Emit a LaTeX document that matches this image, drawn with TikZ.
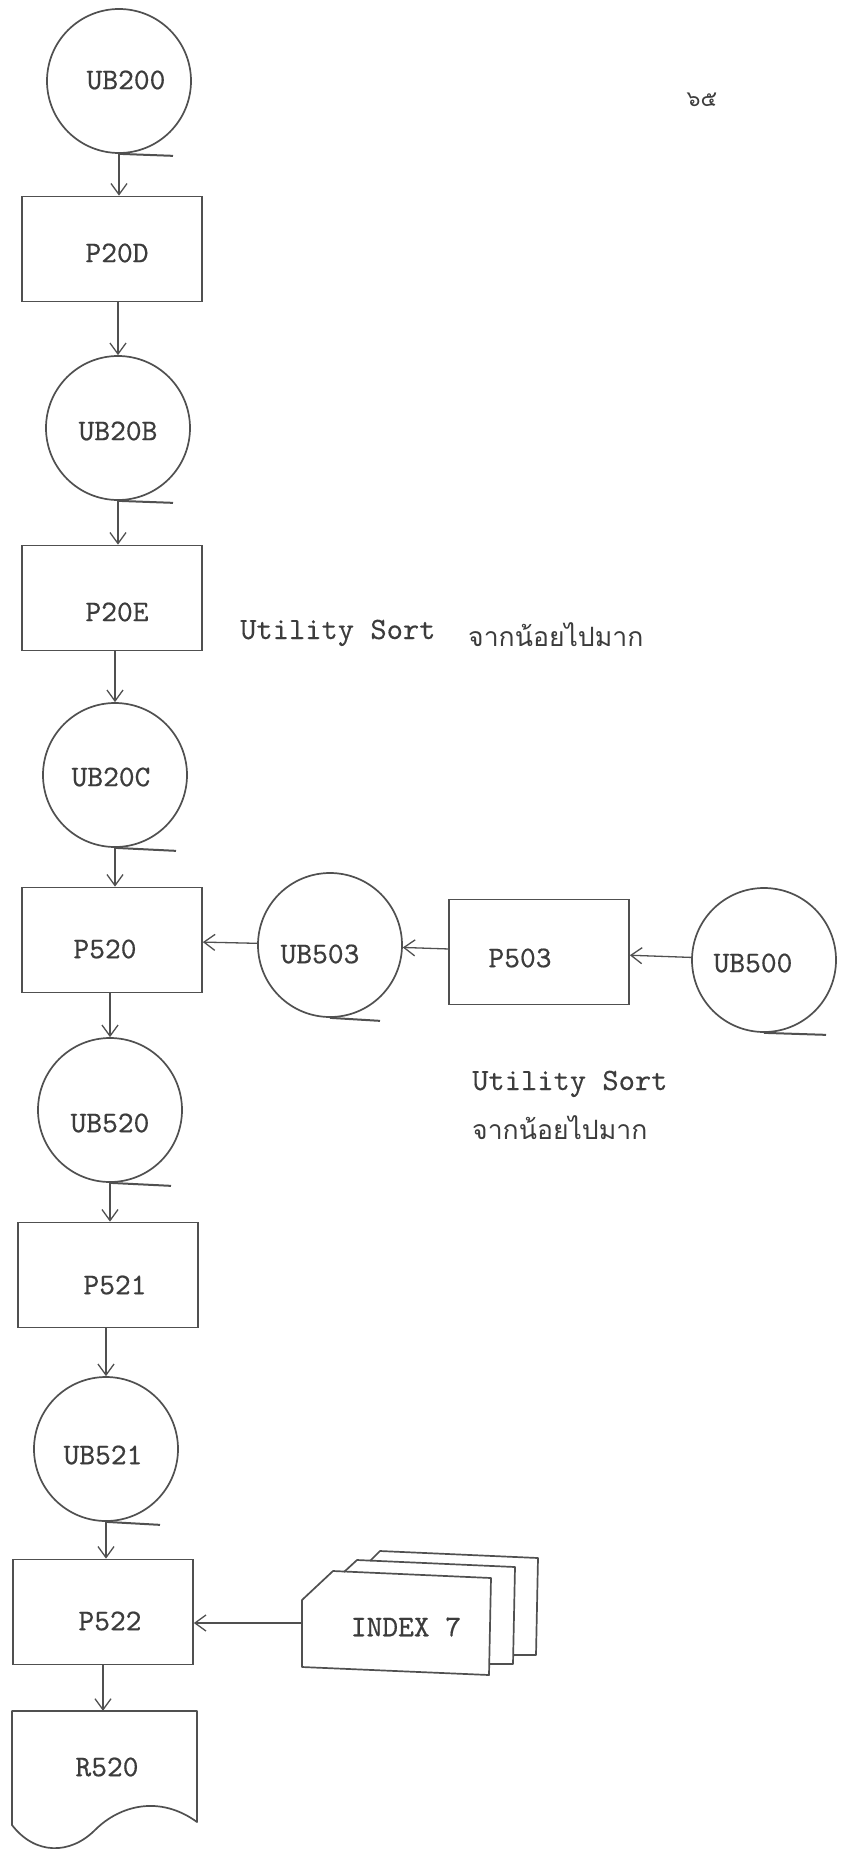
\documentclass[tikz,border=0pt]{standalone}
\usepackage{fontspec}
\newfontfamily\thaifont[Script=Thai]{Loma}
\newfontfamily\twfont{lmmono10-regular.otf}[FakeBold=0.5]
\newfontfamily\notefont{lmmono10-regular.otf}[FakeBold=0.2]
\usetikzlibrary{arrows.meta}
\definecolor{ink}{RGB}{80,80,80}
\definecolor{txtc}{RGB}{60,60,60}
\begin{document}
\begin{tikzpicture}[x=1pt,y=-1pt,
  lab/.style={font=\twfont\fontsize{30}{36}\selectfont, text=txtc, inner sep=0pt},
  tape/.style={draw=ink, line width=1.7pt, circle, minimum size=144pt, inner sep=0pt},
  procbox/.style={draw=ink, line width=1.7pt, rectangle, minimum width=180pt, minimum height=105pt, inner sep=0pt},
  plain/.style={draw=none, rectangle, inner sep=0pt},
  arr/.style={draw=ink, line width=1.3pt, -{Straight Barb[length=11pt,width=16pt,line width=1.3pt]}},
  tapeend/.style={draw=ink, line width=2pt},
  outline/.style={draw=ink, line width=1.7pt, line join=round},
  note/.style={font=\notefont\fontsize{31}{36}\selectfont, text=txtc, inner sep=0pt, anchor=base west},
  thai/.style={font=\thaifont\fontsize{26.6}{32}\selectfont, text=txtc, inner sep=0pt, anchor=base west},
]
\useasboundingbox (0,0) rectangle (844,1851);
\fill[white] (0,0) rectangle (844,1851);

% page number
\node[font=\thaifont\fontsize{22}{26}\selectfont, text=txtc, inner sep=0pt] (pg) at (702,100) {๖๕};

% main column
\node[tape, label={[lab,xshift=7pt,yshift=1pt]center:UB200}] (UB200) at (119,81) {};
\node[procbox, label={[lab,xshift=5pt,yshift=-4pt]center:P20D}] (P20D) at (112,249) {};
\node[tape, label={[lab,yshift=-3pt]center:UB20B}] (UB20B) at (118,428) {};
\node[procbox, label={[lab,xshift=5pt,yshift=-14pt]center:P20E}] (P20E) at (112,598) {};
\node[tape, label={[lab,xshift=-4pt,yshift=-2pt]center:UB20C}] (UB20C) at (115,775) {};
\node[procbox, label={[lab,xshift=-7pt,yshift=-9pt]center:P520}] (P520) at (112,940) {};
\node[tape, label={[lab,yshift=-13pt]center:UB520}] (UB520) at (110,1110) {};
\node[procbox, label={[lab,xshift=7pt,yshift=-10pt]center:P521}] (P521) at (108,1275) {};
\node[tape, label={[lab,xshift=-3pt,yshift=-6pt]center:UB521}] (UB521) at (106,1449) {};
\node[procbox, label={[lab,xshift=7pt,yshift=-9pt]center:P522}] (P522) at (103,1612) {};
\node[plain, minimum width=185pt, minimum height=112pt, label={[lab,xshift=2pt]center:R520}] (R520) at (105,1767) {};

% side branch
\node[tape, label={[lab,xshift=-10pt,yshift=-9pt]center:UB503}] (UB503) at (330,945) {};
\node[procbox, label={[lab,xshift=-19pt,yshift=-6pt]center:P503}] (P503) at (539,952) {};
\node[tape, label={[lab,xshift=-11pt,yshift=-3pt]center:UB500}] (UB500) at (764,960) {};
\node[plain, minimum width=188pt, minimum height=97pt, label={[lab,xshift=10pt,yshift=-4pt]center:INDEX 7}] (INDEX) at (396,1623) {};

% tape tails
\draw[tapeend] (UB200.south) -- ++(54,2);
\draw[tapeend] (UB20B.south) -- ++(55,2);
\draw[tapeend] (UB20C.south) -- ++(61,3);
\draw[tapeend] (UB520.south) -- ++(61,3);
\draw[tapeend] (UB521.south) -- ++(54,3);
\draw[tapeend] (UB503.south) -- ++(50,3);
\draw[tapeend] (UB500.south) -- ++(62,2);

% document symbol R520
\draw[outline] (12,1711) -- (197,1711) -- (197,1822)
  .. controls (160,1795) and (120,1805) .. (95,1830)
  .. controls (70,1855) and (35,1855) .. (12,1825) -- cycle;

% card deck INDEX 7
\draw[outline] (302,1600) -- (333,1571) -- (491,1578) -- (489,1675) -- (302,1667) -- cycle;
\draw[outline] (344,1572) -- (357,1560) -- (515,1567) -- (513,1664) -- (489,1664);
\draw[outline] (370,1561) -- (380,1551) -- (538,1558) -- (536,1655) -- (513,1655);

% vertical flow
\draw[arr] (UB200.south) -- (UB200.south |- P20D.north);
\draw[arr] (P20D.south -| UB20B.north) -- (UB20B.north);
\draw[arr] (UB20B.south) -- (UB20B.south |- P20E.north);
\draw[arr] (P20E.south -| UB20C.north) -- (UB20C.north);
\draw[arr] (UB20C.south) -- (UB20C.south |- P520.north);
\draw[arr] (P520.south -| UB520.north) -- (UB520.north);
\draw[arr] (UB520.south) -- (UB520.south |- P521.north);
\draw[arr] (P521.south -| UB521.north) -- (UB521.north);
\draw[arr] (UB521.south) -- (UB521.south |- P522.north);
\draw[arr] (P522.south) -- (P522.south |- R520.north);

% horizontal flow
\draw[arr] (UB500) -- (P503);
\draw[arr] (P503) -- (UB503);
\draw[arr] (UB503) -- (P520);
\draw[arr] (INDEX.west) -- (INDEX.west -| P522.east);

% notes
\node[note] (us1) at (240,639) {Utility Sort};
\node[thai] (th1) at (468,646) {จากน้อยไปมาก};
\node[note] (us2) at (472,1090) {Utility Sort};
\node[thai] (th2) at (472,1139) {จากน้อยไปมาก};
\end{tikzpicture}
\end{document}
